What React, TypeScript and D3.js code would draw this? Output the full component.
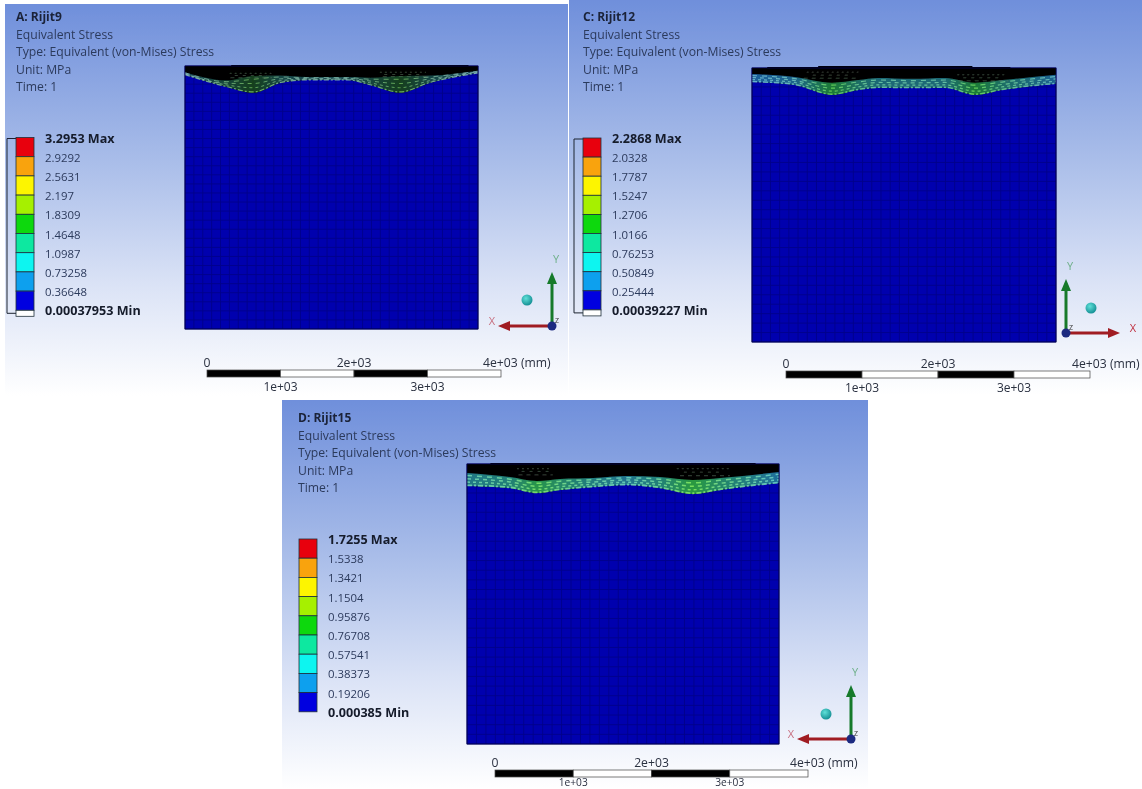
import React from "react";
import * as d3 from "d3";

const WIDTH = 1142;
const HEIGHT = 789;

const legendColors = ["#e8000c", "#f9a30b", "#fdf500", "#a6f000", "#10d810", "#08e8a0", "#08f5f0", "#10a0ee", "#0404e0", "#ffffff"];

const labelsA = ["3.2953 Max", "2.9292", "2.5631", "2.197", "1.8309", "1.4648", "1.0987", "0.73258", "0.36648", "0.00037953 Min"];
const labelsC = ["2.2868 Max", "2.0328", "1.7787", "1.5247", "1.2706", "1.0166", "0.76253", "0.50849", "0.25444", "0.00039227 Min"];
const labelsD = ["1.7255 Max", "1.5338", "1.3421", "1.1504", "0.95876", "0.76708", "0.57541", "0.38373", "0.19206", "0.000385 Min"];

const infoLines = ["Equivalent Stress", "Type: Equivalent (von-Mises) Stress", "Unit: MPa", "Time: 1"];
const scaleTicksTop = [0, 2000, 4000];
const scaleTicksBottom = [1000, 3000];
const scaleTickNames = ["0", "1e+03", "2e+03", "3e+03", "4e+03"];

// Contact profile, in mm along the block and mm below its top face
const profileXA = [0, 570, 930, 1300, 1670, 2220, 2530, 2930, 3340, 4000];
const profileDepthA = [120, 285, 365, 230, 190, 190, 260, 365, 230, 95];
const bandA = [35, 90, 230, 100, 40, 40, 100, 230, 100, 30];

const profileXC = [0, 566, 1053, 1395, 1658, 2105, 2540, 2934, 3290, 4000];
const profileDepthC = [184, 224, 355, 290, 263, 263, 263, 355, 290, 210];
const bandC = [105, 105, 160, 130, 130, 120, 130, 160, 130, 120];

const profileXD = [0, 551, 897, 1192, 1615, 2051, 2474, 2897, 3243, 4000];
const profileDepthD = [282, 308, 372, 333, 295, 269, 308, 385, 333, 244];
const bandD = [167, 141, 154, 141, 115, 115, 141, 180, 154, 141];

// Loose elements above the band: start mm, end mm, depth mm
const dustStartA = [610, 680, 620, 2660, 2720, 2700];
const dustEndA = [1180, 1120, 1190, 3290, 3200, 3300];
const dustDepthA = [100, 130, 160, 85, 115, 145];

const dustStartC = [720, 800, 680, 2700, 2780, 2720];
const dustEndC = [1400, 1300, 1380, 3350, 3250, 3370];
const dustDepthC = [55, 95, 135, 90, 130, 170];

const dustStartD = [640, 700, 660, 2690, 2780, 2730];
const dustEndD = [1090, 1050, 1100, 3360, 3250, 3370];
const dustDepthD = [60, 95, 140, 60, 105, 150];

// Raised top steps of the block: start mm, end mm
const topStartA = [630];
const topEndA = [3870];
const topStartC = [200, 870];
const topEndC = [3400, 2900];
const topStartD = [300];
const topEndD = [3700];

type Panel = {
  title: string; labels: string[];
  bg: [number, number, number, number];
  mesh: [number, number, number, number];
  heightMm: number;
  legend: [number, number, number];
  bracket: boolean; whiteBox: boolean;
  bar: [number, number, number];
  bottomLabelY: number; bottomLabelSize: number;
  textX: number; textY: number;
  triad: [number, number]; dirX: number; sphere: [number, number];
  px: number[]; pd: number[]; pb: number[];
  flat: string; dip: string; flatDash: string; dipDash: string; dashW: number;
  ds: number[]; de: number[]; dd: number[]; ts: number[]; te: number[];
};

const panels: Panel[] = [
  { title: "A: Rijit9", labels: labelsA, bg: [5, 4, 563, 392], mesh: [185, 66, 293, 263], heightMm: 3580,
    legend: [16, 137.5, 19.2], bracket: true, whiteBox: true, bar: [207, 501, 370], bottomLabelY: 391, bottomLabelSize: 12, textX: 16, textY: 21,
    triad: [552, 326], dirX: -1, sphere: [527, 300],
    px: profileXA, pd: profileDepthA, pb: bandA, flat: "#1c4a5a", dip: "#123f1e", flatDash: "#8fc0c8", dipDash: "#7cc860", dashW: 0.9,
    ds: dustStartA, de: dustEndA, dd: dustDepthA, ts: topStartA, te: topEndA },
  { title: "C: Rijit12", labels: labelsC, bg: [569, 0, 573, 395], mesh: [752, 68, 304, 274], heightMm: 3630,
    legend: [583, 138, 19.1], bracket: true, whiteBox: true, bar: [786, 1090, 371], bottomLabelY: 392, bottomLabelSize: 12, textX: 583, textY: 21,
    triad: [1066, 333], dirX: 1, sphere: [1091, 308],
    px: profileXC, pd: profileDepthC, pb: bandC, flat: "#1f5f9c", dip: "#1f7a36", flatDash: "#74c4d8", dipDash: "#6fe060", dashW: 1.2,
    ds: dustStartC, de: dustEndC, dd: dustDepthC, ts: topStartC, te: topEndC },
  { title: "D: Rijit15", labels: labelsD, bg: [282, 400, 586, 389], mesh: [467, 464, 312, 280], heightMm: 3600,
    legend: [299, 539, 19.2], bracket: false, whiteBox: false, bar: [495, 808, 770], bottomLabelY: 785.5, bottomLabelSize: 10.2, textX: 298, textY: 422,
    triad: [851, 739], dirX: -1, sphere: [826, 714],
    px: profileXD, pd: profileDepthD, pb: bandD, flat: "#1f6f9c", dip: "#2a9a40", flatDash: "#70d8d0", dipDash: "#8cf060", dashW: 1.5,
    ds: dustStartD, de: dustEndD, dd: dustDepthD, ts: topStartD, te: topEndD },
];

function PanelView({ p, i }: { p: Panel; i: number }) {
  const [bx, by, bw, bh] = p.bg;
  const [mx, my, mw, mh] = p.mesh;
  const x = d3.scaleLinear().domain([0, 4000]).range([mx, mx + mw]);
  const y = d3.scaleLinear().domain([0, p.heightMm]).range([my, my + mh]);
  const scale = d3.scaleLinear().domain([0, 4000]).range([p.bar[0], p.bar[1]]);

  const pts = p.px.map((v, k) => ({ x: v, d: p.pd[k], b: p.pb[k] }));
  const curve = d3.curveMonotoneX;
  const black = d3.area<typeof pts[0]>().x(d => x(d.x)).y0(my).y1(d => y(d.d)).curve(curve);
  const band = d3.area<typeof pts[0]>().x(d => x(d.x)).y0(d => y(d.d - d.b)).y1(d => y(d.d)).curve(curve);
  const strand = (f: number) => d3.line<typeof pts[0]>().x(d => x(d.x)).y(d => y(d.d - d.b * f)).curve(curve)(pts) || "";

  const cols = d3.range(0, 4001, 4000 / 33);
  const rows = d3.range(0, p.heightMm + 1, p.heightMm / 29);
  const [ox, oy] = p.triad;
  const dir = p.dirX;
  const hot = d3.scalePow().exponent(2).domain(d3.extent(p.pd) as [number, number]).range([0, 1]);
  const stop = (a: string, b: string) => p.px.map((v, k) => (
    <stop key={v} offset={v / 4000} stopColor={d3.interpolateRgb(a, b)(hot(p.pd[k]))} />
  ));

  return (
    <g fontFamily="'Open Sans', sans-serif">
      <defs>
        <linearGradient id={`fill${i}`} gradientUnits="userSpaceOnUse" x1={mx} x2={mx + mw} y1={0} y2={0}>{stop(p.flat, p.dip)}</linearGradient>
        <linearGradient id={`dash${i}`} gradientUnits="userSpaceOnUse" x1={mx} x2={mx + mw} y1={0} y2={0}>{stop(p.flatDash, p.dipDash)}</linearGradient>
      </defs>
      <rect x={bx} y={by} width={bw} height={bh} fill={`url(#bg${i})`} />
      <text x={p.textX} y={p.textY} fontSize={12} fontWeight={700} fill="#1a2338">{p.title}</text>
      {infoLines.map((t, k) => (
        <text key={t} x={p.textX} y={p.textY + 17.5 * (k + 1)} fontSize={12.2} fill="#2c3a5c">{t}</text>
      ))}

      {/* block */}
      <rect x={mx} y={my} width={mw} height={mh} fill="#0505ae" />
      {cols.map(c => <line key={"c" + c} x1={x(c)} x2={x(c)} y1={my} y2={my + mh} stroke="#03038a" strokeWidth={0.9} />)}
      {rows.map(r => <line key={"r" + r} x1={mx} x2={mx + mw} y1={y(r)} y2={y(r)} stroke="#03038a" strokeWidth={0.9} />)}
      <path d={black(pts) || ""} fill="#000000" />
      {p.ts.map((s, k) => <rect key={s} x={x(s)} y={my - 1 - k} width={x(p.te[k]) - x(s)} height={2 + k} fill="#050510" />)}
      <path d={band(pts) || ""} fill={`url(#fill${i})`} />
      {[0.05, 0.3, 0.55, 0.8].map((f, k) => (
        <path key={f} d={strand(f)} fill="none" stroke={`url(#dash${i})`} strokeOpacity={0.8} strokeWidth={k === 0 ? p.dashW + 0.3 : p.dashW}
          strokeDasharray={k === 0 ? "5 2 2 2" : `${2 + k} ${2 + k}`} />
      ))}
      {p.ds.map((s, k) => (
        <line key={k} x1={x(s)} x2={x(p.de[k])} y1={y(p.dd[k])} y2={y(p.dd[k])} stroke="#5f7a62" strokeOpacity={0.8} strokeWidth={0.7} strokeDasharray={`${2 + (k % 3)} ${3 + ((k * 2) % 3)}`} />
      ))}
      <rect x={mx} y={my} width={mw} height={mh} fill="none" stroke="#04043c" strokeWidth={0.8} />

      {/* legend */}
      {p.bracket && (
        <path d={`M${p.legend[0]},${p.legend[1] + 1}H${p.legend[0] - 9}V${p.legend[1] + 9 * p.legend[2] + 3}H${p.legend[0]}`} fill="none" stroke="#1c2430" strokeWidth={1} />
      )}
      {legendColors.filter((_, k) => k < 9 || p.whiteBox).map((c, k) => (
        <rect key={c} x={p.legend[0]} y={p.legend[1] + k * p.legend[2]} width={18}
          height={k === 9 ? 6 : p.legend[2]} fill={c} stroke="#20303a" strokeWidth={0.8} />
      ))}
      {p.labels.map((t, k) => {
        const bold = k === 0 || k === 9;
        return (
          <text key={t} x={p.legend[0] + 29} y={p.legend[1] + 5 + k * p.legend[2]} fontSize={bold ? 12.6 : 11.4}
            fontWeight={bold ? 700 : 400} fill={bold ? "#141a2a" : "#2c3a5c"}>{t}</text>
        );
      })}

      {/* scale bar */}
      {d3.range(4).map(k => (
        <rect key={k} x={scale(k * 1000)} y={p.bar[2]} width={scale(1000) - scale(0)} height={7}
          fill={k % 2 ? "#ffffff" : "#050505"} stroke="#444" strokeWidth={0.7} />
      ))}
      {scaleTicksTop.map(v => (
        <text key={v} x={scale(v) + (v === 4000 ? -18 : 0)} y={p.bar[2] - 3} fontSize={12.2}
          textAnchor={v === 4000 ? "start" : "middle"} fill="#2a3040">
          {scaleTickNames[v / 1000] + (v === 4000 ? " (mm)" : "")}
        </text>
      ))}
      {scaleTicksBottom.map(v => (
        <text key={v} x={scale(v)} y={p.bottomLabelY} fontSize={p.bottomLabelSize} textAnchor="middle" fill="#2a3040">{scaleTickNames[v / 1000]}</text>
      ))}

      {/* triad */}
      <line x1={ox} y1={oy} x2={ox} y2={oy - 44} stroke="#157a2c" strokeWidth={3} />
      <path d={`M${ox - 5},${oy - 42}L${ox},${oy - 54}L${ox + 5},${oy - 42}Z`} fill="#157a2c" />
      <line x1={ox} y1={oy} x2={ox + dir * 44} y2={oy} stroke="#a01c24" strokeWidth={3} />
      <path d={`M${ox + dir * 42},${oy - 5}L${ox + dir * 54},${oy}L${ox + dir * 42},${oy + 5}Z`} fill="#a01c24" />
      <circle cx={ox} cy={oy} r={4.5} fill="#1c2a80" />
      <text x={ox + 3} y={oy - 3} fontSize={7} fill="#333">Z</text>
      <text x={ox + 4} y={oy - 63} fontSize={11} textAnchor="middle" fill="#6fb08a">Y</text>
      <text x={ox + dir * 60} y={oy - 1} fontSize={11} textAnchor="middle" fill={dir > 0 ? "#c03040" : "#c87080"} dx={dir > 0 ? 7 : 0}>X</text>
      <circle cx={p.sphere[0]} cy={p.sphere[1]} r={5.5} fill="url(#sph)" />
    </g>
  );
}

export default function App() {
  return (
    <svg width={WIDTH} height={HEIGHT} viewBox={`0 0 ${WIDTH} ${HEIGHT}`}
      style={{ position: "absolute", left: 0, top: 0, display: "block", background: "#fff" }}>
      <defs>
        {panels.map((p, i) => (
          <linearGradient key={i} id={`bg${i}`} x1="0" y1="0" x2="0" y2="1">
            <stop offset="0" stopColor="#6f8fdb" />
            <stop offset="0.4" stopColor="#a9bde9" />
            <stop offset="0.72" stopColor="#dbe3f6" />
            <stop offset="1" stopColor="#ffffff" />
          </linearGradient>
        ))}
        <radialGradient id="sph" cx="0.4" cy="0.35" r="0.7">
          <stop offset="0" stopColor="#5fe0d8" />
          <stop offset="1" stopColor="#108a90" />
        </radialGradient>
        <filter id="soft" x="0" y="0" width="100%" height="100%">
          <feGaussianBlur stdDeviation="0.5" />
        </filter>
      </defs>
      <g filter="url(#soft)">
        {panels.map((p, i) => <PanelView key={p.title} p={p} i={i} />)}
      </g>
    </svg>
  );
}
